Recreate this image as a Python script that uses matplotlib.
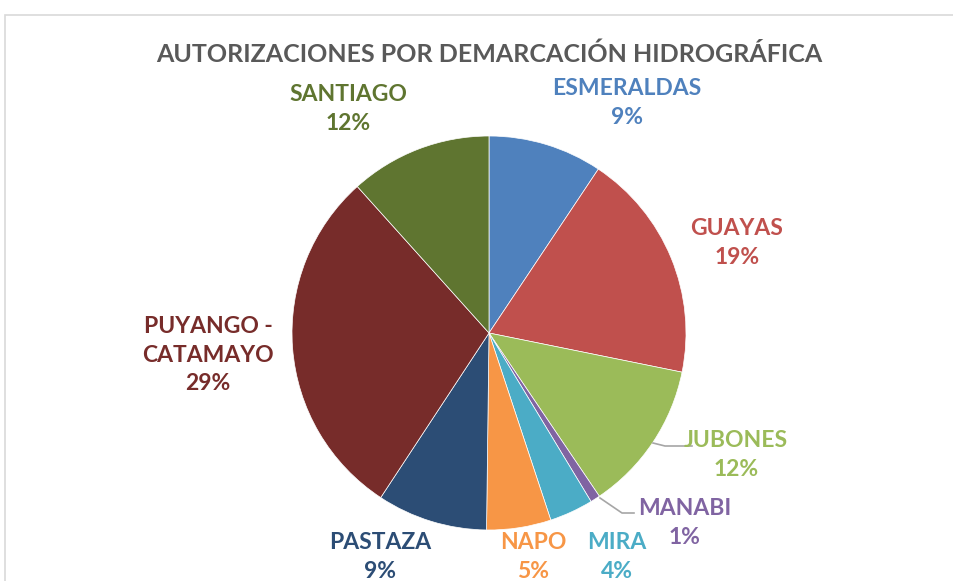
import matplotlib
matplotlib.use("Agg")
import matplotlib.pyplot as plt
from matplotlib.patches import Rectangle

# slice shares (percent), clockwise from 12 o'clock
regions = ["ESMERALDAS", "GUAYAS", "JUBONES", "MANABI", "MIRA",
           "NAPO", "PASTAZA", "PUYANGO -\nCATAMAYO", "SANTIAGO"]
shares = [9.4, 18.9, 12.4, 0.8, 3.6, 5.3, 9.1, 29.2, 11.7]
colors = ["#4F81BD", "#C0504D", "#9BBB59", "#8064A2", "#4BACC6",
          "#F79646", "#2C4D75", "#772C2A", "#5F7530"]

W, H = 954, 581
fig = plt.figure(figsize=(W / 100, H / 100), dpi=100)

def fx(px):
    return px / W

def fy(py):
    return 1 - py / H

# chart frame (only top and left edges are visible)
fig.patches.append(Rectangle((fx(5), fy(H + 20)), 2, fy(15) - fy(H + 20),
                             transform=fig.transFigure, fill=False,
                             edgecolor="#d9d9d9", lw=1.2))

cx, cy, r = 489, 333, 197
ax = fig.add_axes([fx(cx - r), fy(cy + r), 2 * r / W, 2 * r / H])
ax.pie(shares, colors=colors, startangle=90, counterclock=False, radius=1,
       wedgeprops=dict(edgecolor="white", linewidth=0.5))
ax.set_xlim(-1, 1)
ax.set_ylim(-1, 1)
ax.axis("off")

fig.text(fx(489), fy(54), "AUTORIZACIONES POR DEMARCACIÓN HIDROGRÁFICA",
         ha="center", va="center", fontsize=18, fontweight="bold",
         color="#595959", family="Lato")

# label block centres in pixels
label_pos = [(627, 103), (737, 243), (736, 455), (685, 523), (617, 557),
             (533, 557), (380, 557), (208, 355), (348, 109)]
total = sum(shares)
for name, val, col, (px, py) in zip(regions, shares, colors, label_pos):
    fig.text(fx(px), fy(py), f"{name}\n{round(val / total * 100):.0f}%",
             ha="center", va="center", ma="center", fontsize=16.5,
             fontweight="bold", color=col, family="Lato", linespacing=1.45)

# leader lines
fig.add_artist(plt.Line2D([fx(653), fx(665), fx(692)], [fy(443), fy(446), fy(446)],
                          color="#a6a6a6", lw=1.2))
fig.add_artist(plt.Line2D([fx(600), fx(622), fx(634)], [fy(498), fy(513), fy(513)],
                          color="#a6a6a6", lw=1.2))

fig.savefig("out.png", dpi=100)
